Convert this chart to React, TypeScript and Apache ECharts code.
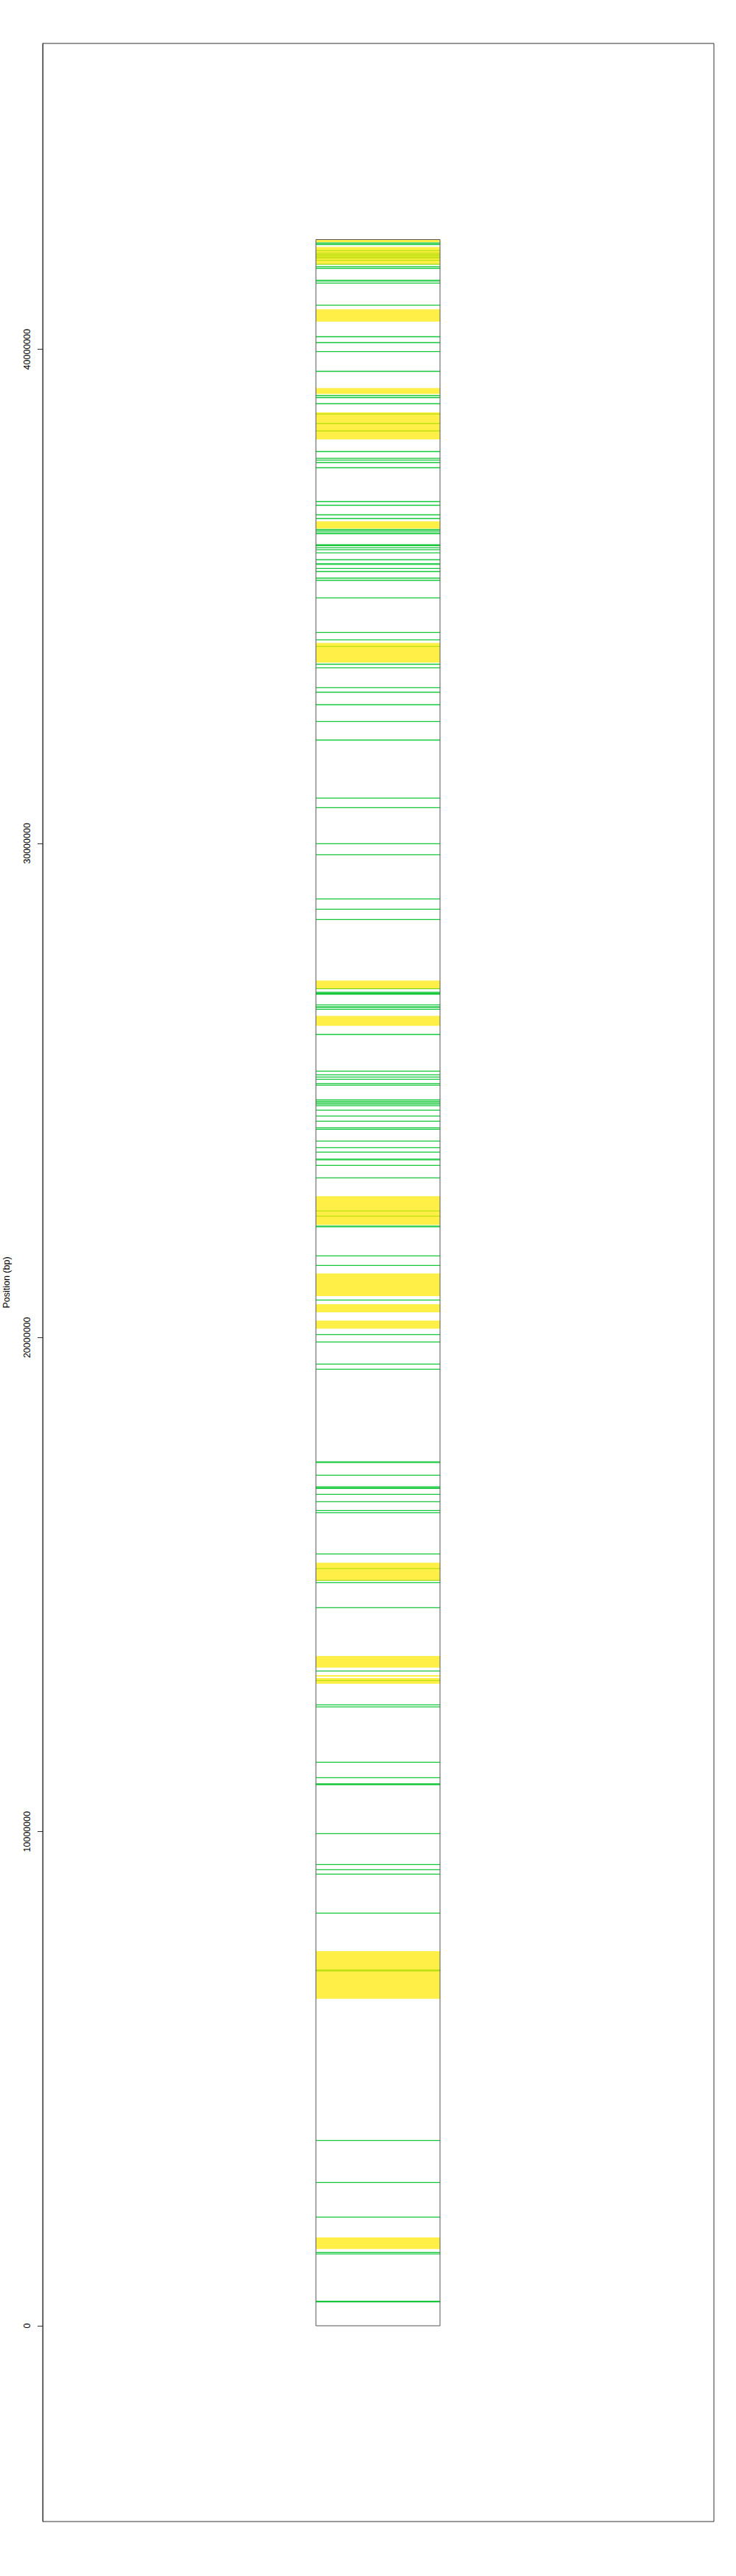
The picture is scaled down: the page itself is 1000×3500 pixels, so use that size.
import { useEffect, useRef } from "react";
import * as echarts from "echarts";

// Marker positions (bp) drawn as green lines across the chromosome
const markerPositions = [
  42150000, 42120000, 41997000, 41946000, 41922000, 41895000, 41870000, 41845000, 41803000, 41722000,
  41669000, 41639000, 41395000, 41380000, 41341000, 40894000, 40254000, 40135000, 39956000, 39554000,
  39063000, 39022000, 38899000, 38690000, 38497000, 38348000, 37931000, 37796000, 37756000, 37707000,
  37603000, 36918000, 36843000, 36650000, 36575000, 36352000, 36322000, 36282000, 36268000, 36043000,
  36028000, 35984000, 35944000, 35880000, 35741000, 35661000, 35646000, 35563000, 35503000, 35369000,
  35324000, 34967000, 34267000, 34118000, 33984000, 33626000, 33552000, 33150000, 33060000, 32807000,
  32465000, 32092000, 30916000, 30722000, 29992000, 29769000, 28875000, 28667000, 28458000, 27058000,
  26989000, 26969000, 26949000, 26730000, 26695000, 26680000, 26641000, 26134000, 25390000, 25315000,
  25271000, 25226000, 25137000, 25107000, 24809000, 24779000, 24749000, 24724000, 24690000, 24601000,
  24481000, 24377000, 24243000, 24213000, 23975000, 23841000, 23752000, 23612000, 23597000, 23484000,
  23230000, 22560000, 22456000, 22256000, 22241000, 21651000, 21458000, 20758000, 20058000, 19909000,
  19462000, 19358000, 17486000, 17471000, 17213000, 16979000, 16964000, 16945000, 16826000, 16677000,
  16498000, 16453000, 15619000, 15321000, 15088000, 15038000, 14532000, 13251000, 13058000, 12566000,
  12526000, 11404000, 11092000, 10967000, 10952000, 9960000, 9334000, 9230000, 9140000, 8351000,
  7198000, 7183000, 3749000, 2900000, 2200000, 1485000, 1455000, 496000, 481000,
];

// Highlighted regions (bp) drawn as yellow bands
const bandStarts = [
  42169000, 41714000, 40561000, 39097000, 38178000, 36371000, 33660000, 27058000, 26307000, 22281000,
  20837000, 20509000, 20181000, 15077000, 13320000, 13137000, 12992000, 6617000, 1553000,
];
const bandEnds = [
  42214000, 42071000, 40810000, 39216000, 38724000, 36520000, 34058000, 27226000, 26511000, 22862000,
  21298000, 20673000, 20345000, 15441000, 13554000, 13166000, 13107000, 7581000, 1787000,
];

const chromosomeStart = 0;
const chromosomeEnd = 42220000;
const yTickValues = [0, 10000000, 20000000, 30000000, 40000000];

const AXIS_MIN = -3962000;
const AXIS_MAX = 46190000;
const BOX_X0 = 0.407;
const BOX_X1 = 0.592;
const FONT = "Liberation Sans, Arial, Helvetica, sans-serif";

export default function App() {
  const ref = useRef<HTMLDivElement>(null);

  useEffect(() => {
    const chart = echarts.init(ref.current!, null, { renderer: "svg" });
    const option: any = {
      animation: false,
      backgroundColor: "#ffffff",
      grid: {
        left: 58,
        right: 30,
        top: 59,
        bottom: 74,
        show: true,
        borderColor: "#333333",
        borderWidth: 1,
        backgroundColor: "transparent",
        containLabel: false,
        outerBoundsMode: "none",
      },
      xAxis: { type: "value", min: 0, max: 1, show: false },
      yAxis: {
        type: "value",
        min: AXIS_MIN,
        max: AXIS_MAX,
        name: "Position (bp)",
        nameLocation: "middle",
        nameRotate: 90,
        nameGap: 43,
        nameTextStyle: { fontFamily: FONT, fontSize: 12.5, color: "#000000" },
        axisLine: { show: true, lineStyle: { color: "#333333", width: 1 } },
        axisTick: {
          show: true,
          length: 7,
          lineStyle: { color: "#333333", width: 1 },
          customValues: yTickValues,
        },
        axisLabel: {
          rotate: 90,
          margin: 15,
          fontFamily: FONT,
          fontSize: 12.5,
          color: "#000000",
          customValues: yTickValues,
          formatter: (v: number) => String(Math.round(v)),
        },
        splitLine: { show: false },
      },
      series: [
        {
          type: "custom",
          name: "markers",
          data: markerPositions.map((p) => [0.5, p]),
          renderItem: (_params: any, api: any) => {
            const v = api.value(1);
            const a = api.coord([BOX_X0, v]);
            const b = api.coord([BOX_X1, v]);
            return {
              type: "line",
              shape: { x1: a[0], y1: a[1], x2: b[0], y2: b[1] },
              style: { stroke: "#14C83A", lineWidth: 1.3 },
            };
          },
        },
        {
          type: "custom",
          name: "regions",
          data: bandStarts.map((s, i) => [0.5, s, bandEnds[i]]),
          renderItem: (_params: any, api: any) => {
            const top = api.coord([BOX_X0, api.value(2)]);
            const bottom = api.coord([BOX_X1, api.value(1)]);
            return {
              type: "rect",
              shape: { x: top[0], y: top[1], width: bottom[0] - top[0], height: bottom[1] - top[1] },
              style: { fill: "rgba(255, 233, 0, 0.72)" },
            };
          },
        },
        {
          type: "custom",
          name: "chromosome",
          data: [[0.5, chromosomeStart, chromosomeEnd]],
          renderItem: (_params: any, api: any) => {
            const top = api.coord([BOX_X0, api.value(2)]);
            const bottom = api.coord([BOX_X1, api.value(1)]);
            return {
              type: "rect",
              shape: { x: top[0], y: top[1], width: bottom[0] - top[0], height: bottom[1] - top[1] },
              style: { fill: "none", stroke: "#555555", lineWidth: 1 },
            };
          },
        },
      ],
    };
    chart.setOption(option);
    return () => chart.dispose();
  }, []);

  return (
    <div
      ref={ref}
      style={{ position: "absolute", left: 0, top: 0, width: 1000, height: 3500, background: "#ffffff" }}
    />
  );
}
